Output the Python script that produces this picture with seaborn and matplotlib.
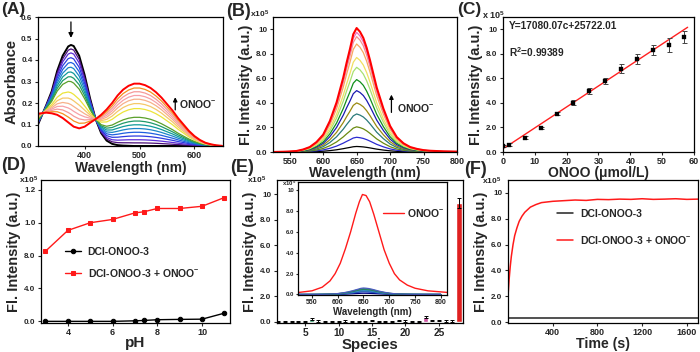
import matplotlib
matplotlib.use('Agg')
import matplotlib.pyplot as plt
import seaborn as sns

# ---------------- (A) absorbance titration ----------------
abs_wl = [315, 320, 330, 340, 350, 360, 370, 375, 380, 390, 400, 410, 420, 430, 440, 450,
          460, 470, 480, 490, 500, 510, 520, 530, 540, 550, 560, 570, 580, 590, 600, 610,
          620, 630, 640, 650]
# probe alone (black) and probe + max ONOO- (red)
abs_start = [0.10, 0.13, 0.19, 0.255, 0.35, 0.42, 0.463, 0.47, 0.465, 0.42, 0.33, 0.22,
             0.125, 0.06, 0.025, 0.01, 0.004, 0.002, 0.001, 0, 0, 0, 0, 0, 0, 0, 0, 0,
             0, 0, 0, 0, 0, 0, 0, 0]
abs_end = [0.15, 0.152, 0.155, 0.152, 0.145, 0.13, 0.11, 0.10, 0.09, 0.082, 0.09, 0.108,
           0.125, 0.145, 0.17, 0.20, 0.235, 0.262, 0.28, 0.29, 0.29, 0.283, 0.27, 0.25,
           0.225, 0.195, 0.165, 0.13, 0.10, 0.07, 0.046, 0.028, 0.015, 0.008, 0.003, 0.001]
# fraction converted for each titration step
abs_frac = [0, 0.05, 0.10, 0.16, 0.22, 0.28, 0.34, 0.40, 0.46, 0.60, 0.68, 0.75, 0.81,
            0.87, 0.93, 1.0]
abs_colors = ['#000000', '#4b0f7a', '#5a2bd6', '#2c3be0', '#1f5fe0', '#1c86c8', '#0f9a9a',
              '#1f9a6a', '#5aa02a', '#ece43a', '#f5c86a', '#f7b08a', '#f7a0a8', '#f59a9a',
              '#f5901e', '#ff0000']

# ---------------- (B) fluorescence titration ----------------
fl_wl = [525, 540, 550, 560, 570, 580, 590, 600, 610, 620, 630, 635, 640, 645, 650, 655,
         660, 665, 670, 675, 680, 690, 700, 710, 720, 730, 740, 750, 760, 780, 800]
fl_shape = [0.0, 0.002, 0.004, 0.008, 0.02, 0.04, 0.08, 0.14, 0.25, 0.40, 0.60, 0.72,
            0.83, 0.95, 1.0, 0.97, 0.92, 0.84, 0.74, 0.63, 0.52, 0.35, 0.21, 0.12, 0.07,
            0.04, 0.025, 0.015, 0.01, 0.005, 0.003]
fl_peaks = [0.45, 1.2, 2.05, 3.1, 4.0, 5.0, 5.9, 6.9, 7.7, 8.8, 9.4, 9.75, 10.1]
fl_colors = ['#000000', '#2b2bd0', '#6a8a10', '#2a7a7a', '#9a8a10', '#1a1ab0', '#10901a',
             '#a8e070', '#f0e060', '#f8a860', '#f59090', '#f070c0', '#ff0000']

# ---------------- (C) linearity ----------------
conc = [0, 2, 7, 12, 17, 22, 27, 32, 37, 42, 47, 52, 57]
conc_int = [0.46, 0.6, 1.17, 1.99, 3.13, 4.0, 4.96, 5.8, 6.8, 7.6, 8.3, 8.7, 9.35]
conc_err = [0.08, 0.1, 0.1, 0.08, 0.15, 0.2, 0.25, 0.25, 0.35, 0.4, 0.4, 0.55, 0.5]
fit_slope = 17080.07 / 1e5
fit_icpt = 25722.01 / 1e5
fit_x = [0.5, 58]

# ---------------- (D) pH ----------------
ph = [3, 4, 5, 6, 7, 7.4, 8, 9, 10, 11]
ph_probe = [0, 0, 0, 0, 0.005, 0.008, 0.015, 0.018, 0.02, 0.075]
ph_onoo = [0.64, 0.83, 0.90, 0.93, 0.99, 1.00, 1.03, 1.03, 1.05, 1.13]
ph_ticks = [0, 0.3, 0.6, 0.9, 1.2]
ph_tick_labels = ['0.0', '4.0', '8.0', '1.0', '1.2']

# ---------------- (E) selectivity ----------------
species = list(range(1, 29))
sel_int = [0.05, 0.05, 0.05, 0.05, 0.05, 0.25, 0.08, 0.05, 0.05, 0.05, 0.08, 0.05, 0.05,
           0.05, 0.1, 0.05, 0.05, 0.05, 0.12, 0.07, 0.05, 0.05, 0.4, 0.1, 0.1, 0.08, 0.07,
           9.3]
sel_err = [0.06] * 22 + [0.1, 0.06, 0.06, 0.06, 0.06, 0.4]
sel_colors = ['#333333', '#7a3b3b', '#3b3b7a', '#555555', '#3b7a3b', '#1fae6e', '#b5a020',
              '#444444', '#8a2be2', '#2f4f4f', '#6f8fa0', '#a05a2c', '#556b2f', '#708090',
              '#1f9fb0', '#8b4513', '#483d8b', '#2e8b57', '#3fa7c7', '#b8a03a', '#7b68ee',
              '#20b2aa', '#e040a8', '#87b7e0', '#9370a0', '#3a9a9a', '#b0a040', '#ff0000']
ins_wl = [525, 550, 570, 585, 595, 605, 615, 625, 635, 642, 648, 655, 662, 670, 680, 690,
          700, 710, 720, 735, 750, 775, 800, 812]
ins_red = [0.2, 0.35, 0.7, 1.3, 2.0, 3.0, 4.4, 6.0, 7.8, 8.9, 9.6, 9.5, 8.9, 7.7, 6.0,
           4.3, 3.0, 2.0, 1.4, 0.9, 0.6, 0.35, 0.25, 0.2]
ins_small = [0.12, 0.25, 0.32, 0.4, 0.48, 0.55, 0.62]
ins_colors = ['#000080', '#1f3fbf', '#2a6ab0', '#3a8acf', '#1f7a7a', '#2a8a4a', '#4a5ac0']

# ---------------- (F) kinetics ----------------
t = [0, 10, 20, 30, 45, 60, 80, 100, 125, 150, 175, 200, 250, 300, 400, 500, 600, 700,
     800, 900, 1000, 1100, 1200, 1300, 1400, 1500, 1600, 1700]
t_onoo = [2.0, 3.3, 4.3, 5.1, 6.0, 6.7, 7.3, 7.8, 8.2, 8.5, 8.7, 8.9, 9.1, 9.25, 9.35,
          9.4, 9.45, 9.42, 9.5, 9.48, 9.52, 9.5, 9.55, 9.5, 9.52, 9.55, 9.5, 9.52]
t_probe = [0.3] * len(t)

sns.set_style('ticks')
plt.rcParams['font.family'] = ['Liberation Sans', 'DejaVu Sans']
plt.rcParams['font.weight'] = 'bold'
plt.rcParams['axes.labelweight'] = 'bold'
plt.rcParams['mathtext.fontset'] = 'custom'
plt.rcParams['mathtext.rm'] = 'Liberation Sans:bold'
plt.rcParams['mathtext.it'] = 'Liberation Sans:bold'
plt.rcParams['mathtext.bf'] = 'Liberation Sans:bold'
plt.rcParams['mathtext.default'] = 'rm'

W, H = 700, 352
fig = plt.figure(figsize=(7, 3.52), dpi=100)


def box(l, t_, r, b):
    return [l / W, 1 - b / H, (r - l) / W, (b - t_) / H]


def style(ax, xfs=6.5, yfs=5.8, xl=None, yl=None, xls=10, yls=10.5, xpad=1, xlpad=1):
    ax.tick_params(axis='x', labelsize=xfs, length=2.5, width=0.8, direction='out', pad=xpad)
    ax.tick_params(axis='y', labelsize=yfs, length=2.5, width=0.8, direction='out', pad=1.5)
    for s in ax.spines.values():
        s.set_linewidth(0.9)
        s.set_color('black')
    ax.set_xlabel(xl, fontsize=xls, labelpad=xlpad)
    ax.set_ylabel(yl, fontsize=yls, labelpad=2)


def ftext(x, y, s, size, **kw):
    fig.text(x / W, 1 - y / H, s, fontsize=size, fontweight='bold', **kw)


# (A)
axA = fig.add_axes(box(38, 17, 223, 146))
for f, c in zip(abs_frac, abs_colors):
    y = [(1 - f) * a + f * b for a, b in zip(abs_start, abs_end)]
    lw = 1.4 if f in (0, 1.0) else 0.9
    sns.lineplot(x=abs_wl, y=y, color=c, linewidth=lw, ax=axA)
axA.set_xlim(315, 652)
axA.set_ylim(0, 0.6)
axA.set_xticks([400, 500, 600])
axA.set_yticks([0, 0.1, 0.2, 0.3, 0.4, 0.5, 0.6])
style(axA, xl='Wavelength (nm)', yl='Absorbance')
axA.annotate('', xy=(375, 0.49), xytext=(375, 0.59),
             arrowprops=dict(arrowstyle='-|>', color='black', lw=0.9, mutation_scale=7))
axA.annotate('', xy=(565, 0.24), xytext=(565, 0.155),
             arrowprops=dict(arrowstyle='-|>', color='black', lw=0.9, mutation_scale=6))
axA.text(572, 0.195, 'ONOO$^{-}$', fontsize=7.5, fontweight='bold', va='center')

# (B)
axB = fig.add_axes(box(273, 17, 457, 152))
for p, c in zip(fl_peaks, fl_colors):
    lw = 1.5 if c == '#ff0000' else 0.9
    sns.lineplot(x=fl_wl, y=[p * s for s in fl_shape], color=c, linewidth=lw, ax=axB)
axB.set_xlim(525, 800)
axB.set_ylim(0, 11)
axB.set_xticks([550, 600, 650, 700, 750, 800])
axB.set_yticks([0, 2, 4, 6, 8, 10])
axB.set_yticklabels(['0.0', '2.0', '4.0', '6.0', '8.0', '10'])
style(axB, xl='Wavelength (nm)', yl='Fl. Intensity (a.u.)', xlpad=0)
axB.annotate('', xy=(702, 4.9), xytext=(702, 3.0),
             arrowprops=dict(arrowstyle='-|>', color='black', lw=0.9, mutation_scale=6))
axB.text(711, 3.6, 'ONOO$^{-}$', fontsize=7.5, fontweight='bold', va='center')

# (C)
axC = fig.add_axes(box(503, 17, 694, 152))
sns.lineplot(x=fit_x, y=[fit_slope * x + fit_icpt for x in fit_x], color='#ff2020',
             linewidth=1.0, ax=axC)
axC.errorbar(conc, conc_int, yerr=conc_err, fmt='none', ecolor='#444444', elinewidth=0.7,
             capsize=1.8, capthick=0.7)
sns.scatterplot(x=conc, y=conc_int, marker='s', s=9, color='black', edgecolor='black',
                ax=axC, zorder=3)
axC.set_xlim(0, 60)
axC.set_ylim(0, 11)
axC.set_xticks([0, 10, 20, 30, 40, 50, 60])
axC.set_yticks([0, 2, 4, 6, 8, 10])
axC.set_yticklabels(['0.0', '2.0', '4.0', '6.0', '8.0', '10'])
style(axC, xl='ONOO (μmol/L)', yl='Fl. Intensity (a.u.)', xlpad=0)
axC.text(1.9, 10.27, 'Y=17080.07c+25722.01', fontsize=7.3, fontweight='bold', va='center')
axC.text(1.9, 8.1, 'R$^{2}$=0.99389', fontsize=7.3, fontweight='bold', va='center')

# (D)
axD = fig.add_axes(box(41, 180, 230, 323))
sns.lineplot(x=ph, y=ph_probe, color='black', marker='o', markersize=3.2,
             markeredgecolor='black', linewidth=1.0, label='DCI-ONOO-3', ax=axD)
sns.lineplot(x=ph, y=ph_onoo, color='#ff1a1a', marker='s', markersize=3.2,
             markeredgecolor='#ff1a1a', linewidth=1.0, label='DCI-ONOO-3 + ONOO$^{-}$', ax=axD)
axD.set_xlim(2.8, 11.25)
axD.set_ylim(-0.015, 1.29)
axD.set_xticks([4, 6, 8, 10])
axD.set_yticks(ph_ticks)
axD.set_yticklabels(ph_tick_labels)
style(axD, xl='pH', yl='Fl. Intensity (a.u.)', xls=11, xpad=0.8, xlpad=-0.5)
axD.legend(loc='center left', bbox_to_anchor=(0.125, 0.42), frameon=False, borderpad=0,
           borderaxespad=0, handlelength=1.6, handletextpad=0.6, labelspacing=0.95,
           prop={'size': 7.5, 'weight': 'bold'})

# (E)
axE = fig.add_axes(box(277, 180, 463, 323))
sns.barplot(x=species, y=sel_int, hue=[str(s) for s in species], palette=sel_colors,
            native_scale=True, dodge=False, legend=False, width=0.8, ax=axE)
axE.errorbar(species, sel_int, yerr=sel_err, fmt='none', ecolor='black', elinewidth=0.7,
             capsize=1.5, capthick=0.7)
axE.set_xlim(0.8, 28.6)
axE.set_ylim(-0.08, 11.1)
axE.set_xticks([5, 10, 15, 20, 25])
axE.set_xticklabels(['5', '10', '15', '20', '25'])
axE.set_yticks([0, 2, 4, 6, 8, 10])
axE.set_yticklabels(['0.0', '2.0', '4.0', '6.0', '8.0', '10'])
style(axE, xfs=7.3, xl='Species', yl='Fl. Intensity (a.u.)', xls=10.8, xpad=0.8,
      xlpad=0)

axI = fig.add_axes(box(298, 182, 447, 295))
for p, c in zip(ins_small, ins_colors):
    sns.lineplot(x=fl_wl, y=[p * s for s in fl_shape], color=c, linewidth=0.9, ax=axI)
sns.lineplot(x=ins_wl, y=ins_red, color='#ff1a1a', linewidth=1.0, label='ONOO$^{-}$', ax=axI)
axI.set_xlim(523, 812)
axI.set_ylim(-0.05, 10.8)
axI.set_xticks([550, 600, 650, 700, 750, 800])
axI.set_yticks([0, 2, 4, 6, 8, 10])
axI.set_yticklabels(['0.0', '2.0', '4.0', '6.0', '8.0', '10'])
style(axI, xfs=5, yfs=4.3, xl='Wavelength (nm)', yl=None, xls=7)
axI.tick_params(length=1.8, pad=1)
axI.legend(loc='center left', bbox_to_anchor=(0.57, 0.73), frameon=False, borderpad=0,
           borderaxespad=0, handlelength=2.0, handletextpad=0.35,
           prop={'size': 7.5, 'weight': 'bold'})

# (F)
axF = fig.add_axes(box(508, 180, 698, 323))
sns.lineplot(x=t, y=t_probe, color='#222222', linewidth=1.1, label='DCI-ONOO-3', ax=axF)
sns.lineplot(x=t, y=t_onoo, color='#ff1a1a', linewidth=1.1,
             label='DCI-ONOO-3 + ONOO$^{-}$', ax=axF)
axF.set_xlim(0, 1700)
axF.set_ylim(-0.07, 11)
axF.set_xticks([400, 800, 1200, 1600])
axF.set_yticks([0, 2, 4, 6, 8, 10])
axF.set_yticklabels(['0.0', '2.0', '4.0', '6.0', '8.0', '10'])
style(axF, xl='Time (s)', yl='Fl. Intensity (a.u.)', xls=10.2, xpad=0.8, xlpad=0)
axF.legend(loc='center left', bbox_to_anchor=(0.258, 0.67), frameon=False, borderpad=0,
           borderaxespad=0, handlelength=1.55, handletextpad=0.7, labelspacing=1.45,
           prop={'size': 7.5, 'weight': 'bold'})

# panel letters and scale labels
ftext(1, 2, '(A)', 12.5, va='top')
ftext(226, 3, '(B)', 13, va='top')
ftext(457, 2, '(C)', 12.5, va='top')
ftext(1, 157, '(D)', 13, va='top')
ftext(230, 159, '(E)', 13, va='top')
ftext(464, 161, '(F)', 13, va='top')
ftext(250, 18, 'x10$^{5}$', 6, va='baseline')
ftext(482, 19, 'x 10$^{5}$', 6.5, va='baseline')
ftext(19, 184, 'x10$^{5}$', 6, va='baseline')
ftext(247, 184, 'x10$^{5}$', 6, va='baseline')
ftext(482, 185, 'x10$^{5}$', 6, va='baseline')
ftext(282, 186, 'x10$^{5}$', 4.3, va='baseline')

fig.savefig('out.png', dpi=100)
